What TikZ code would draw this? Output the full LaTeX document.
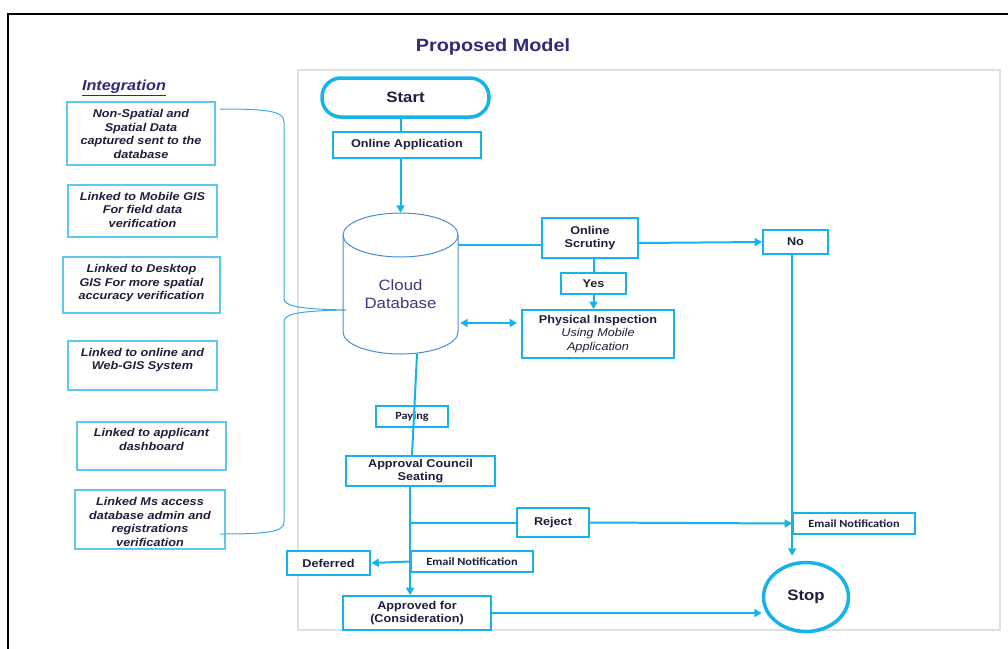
\documentclass[tikz,border=0pt]{standalone}
\usepackage{fontspec}
\setmainfont{Liberation Sans}[FakeStretch=1.12]
\newfontfamily\calibri{Carlito}[FakeStretch=1.12]
\usetikzlibrary{arrows.meta,shadows,calc,shapes.geometric}
\definecolor{cyanline}{RGB}{22,178,235}
\definecolor{lightcyan}{RGB}{95,200,240}
\definecolor{cylblue}{RGB}{70,140,210}
\definecolor{bracecol}{RGB}{60,170,225}
\definecolor{navy}{RGB}{30,30,60}
\definecolor{titlecol}{RGB}{46,42,120}
\definecolor{dbtext}{RGB}{60,56,130}
\definecolor{framegray}{RGB}{226,222,227}
\tikzset{
  box/.style={draw=cyanline, line width=1.8pt, fill=white, text=navy, align=center, inner sep=0pt,
    font=\bfseries\fontsize{11.3}{13.4}\selectfont},
  smallbox/.style={box, font=\calibri\bfseries\fontsize{11}{13}\selectfont},
  leftbox/.style={draw=lightcyan, line width=1.1pt, inner sep=0pt},
  lefttext/.style={text=navy, align=center, inner sep=0pt, anchor=north,
    font=\bfseries\itshape\fontsize{11.3}{13.5}\selectfont},
  conn/.style={draw=cyanline, line width=2pt},
  arr/.style={-{Triangle[length=7.5pt,width=8pt]}},
  dblarr/.style={{Triangle[length=7.5pt,width=8pt]}-{Triangle[length=7.5pt,width=8pt]}},
  terminal/.style={draw=cyanline, line width=3.5pt, fill=white, text=navy, inner sep=0pt,
    font=\bfseries\fontsize{15}{17}\selectfont,
    drop shadow={opacity=0.25, shadow xshift=1pt, shadow yshift=-2pt}},
  cyl/.style={draw=cylblue, line width=1pt}
}
\begin{document}
\begin{tikzpicture}[x=1pt,y=-1pt]
\useasboundingbox (0,0) rectangle (1008,648);
% frames
\draw[line width=2.5pt] (1012,14) -- (8,14) -- (8,652);
\draw[draw=framegray, line width=1.2pt] (298,70) rectangle (1000,630);

% titles
\node[text=titlecol, font=\bfseries\fontsize{17.7}{20}\selectfont] (title) at (493,47) {Proposed Model};
\node[text=titlecol, font=\bfseries\itshape\fontsize{14.5}{17}\selectfont] (integ) at (124,88) {\underline{Integration}};

% left boxes
\node[leftbox, minimum width=148pt, minimum height=63pt] (b1) at (141,133.5) {};
\node[lefttext] (b1t) at ([yshift=-8pt]b1.north) {Non-Spatial and\\Spatial Data\\captured sent to the\\database};
\node[leftbox, minimum width=149pt, minimum height=52pt] (b2) at (142.5,211) {};
\node[lefttext] (b2t) at ([yshift=-7.5pt]b2.north) {Linked to Mobile GIS\\For field data\\verification};
\node[leftbox, minimum width=157pt, minimum height=56pt] (b3) at (141.5,285) {};
\node[lefttext] (b3t) at ([yshift=-8pt]b3.north) {Linked to Desktop\\GIS For more spatial\\accuracy verification};
\node[leftbox, minimum width=149pt, minimum height=49pt] (b4) at (142.5,365.5) {};
\node[lefttext] (b4t) at ([yshift=-7.5pt]b4.north) {Linked to online and\\Web-GIS System};
\node[leftbox, minimum width=149pt, minimum height=48pt] (b5) at (151.5,446) {};
\node[lefttext] (b5t) at ([yshift=-7pt]b5.north) {Linked to applicant\\dashboard};
\node[leftbox, minimum width=150pt, minimum height=59pt] (b6) at (150,519.5) {};
\node[lefttext] (b6t) at ([yshift=-8pt]b6.north) {Linked Ms access\\database admin and\\registrations\\verification};

% brace
\coordinate (bracetip) at (346,310);
\draw[draw=bracecol, line width=1pt]
  (220,109) .. controls (268,109) and (284,111) .. (284,122) -- (284,298)
  .. controls (284,306) and (296,309) .. (bracetip)
  .. controls (296,311) and (284,314) .. (284,322) -- (284,522)
  .. controls (284,532) and (268,534) .. (220,534);

% cloud database
\node[minimum width=115pt, minimum height=141pt, inner sep=0pt] (db) at (400.5,283.5) {};
\draw[cyl] (400.5,235) ellipse [x radius=57.5pt, y radius=22pt];
\draw[cyl] (343,235) -- (343,332) arc[start angle=180, end angle=360, x radius=57.5pt, y radius=22pt] -- (458,235);
\node[text=dbtext, align=center, font=\fontsize{15}{18}\selectfont] (dblabel) at (400.5,294) {Cloud\\Database};

% flow nodes
\node[terminal, rounded corners=19pt, minimum width=167pt, minimum height=39pt] (start) at (405.5,97.5) {Start};
\node[box, minimum width=148pt, minimum height=26pt] (oa) at (407,145) {Online Application};
\node[box, minimum width=96pt, minimum height=40pt] (os) at (590,238) {Online\\Scrutiny};
\node[box, minimum width=65pt, minimum height=24pt] (no) at (795.5,242) {No};
\node[box, minimum width=65pt, minimum height=21pt] (yes) at (593.5,283.5) {Yes};
\node[box, minimum width=152pt, minimum height=48pt] (pi) at (598,334) {Physical Inspection\\{\mdseries\itshape Using Mobile}\\{\mdseries\itshape Application}};
\node[smallbox, fill=none, minimum width=72pt, minimum height=21pt] (paying) at (412,416.5) {Paying};
\node[box, minimum width=149pt, minimum height=30pt] (acs) at (420.5,471) {Approval Council\\Seating};
\node[box, minimum width=72pt, minimum height=29pt] (reject) at (553,522.5) {Reject};
\node[smallbox, minimum width=122pt, minimum height=21pt] (emailR) at (854,523.5) {Email Notification};
\node[smallbox, minimum width=122pt, minimum height=21pt] (emailL) at (472,561.5) {Email Notification};
\node[box, line width=2.6pt, minimum width=83pt, minimum height=24pt] (deferred) at (328.5,563) {Deferred};
\node[box, minimum width=148pt, minimum height=34pt] (approved) at (417,613) {Approved for\\(Consideration)};
\node[terminal, ellipse, minimum width=85pt, minimum height=69pt] (stop) at (806,597) {Stop};

% helper coordinates
\coordinate (osl) at ([yshift=-7pt]os.west);
\coordinate (osr) at ([yshift=-5pt]os.east);
\coordinate (pil) at ([yshift=11pt,xshift=-4pt]pi.west);
\coordinate (dbb) at ([xshift=16.5pt]db.south);
\coordinate (stoptop) at ([yshift=5pt]stop.north);

% connectors
\draw[conn] (start.south -| db.center) -- (oa.north -| db.center);
\draw[conn,arr] (oa.south -| db.center) -- (db.north);
\draw[conn] (osl -| db.east) -- (osl);
\draw[conn,arr] (osr) -- (no.west);
\draw[conn] (os.south -| yes.north) -- (yes.north);
\draw[conn,arr] (yes.south) -- (pi.north -| yes.south);
\draw[conn,dblarr] ([xshift=2pt]pil -| db.east) -- (pil);
\draw[conn] (dbb) -- (acs.north -| paying.center);
\draw[conn,arr] (acs.south -| emailL.west) -- (approved.north -| emailL.west);
\draw[conn] (reject.west -| emailL.west) -- (reject.west);
\draw[conn,arr] (reject.east) -- (emailR.west);
\draw[conn,arr] (no.south -| emailR.west) -- (stoptop -| emailR.west);
\draw[conn,arr] (emailL.west) -- (deferred.east);
\draw[conn,arr] (approved.east) -- (approved.east -| stop.west);
\end{tikzpicture}
\end{document}
